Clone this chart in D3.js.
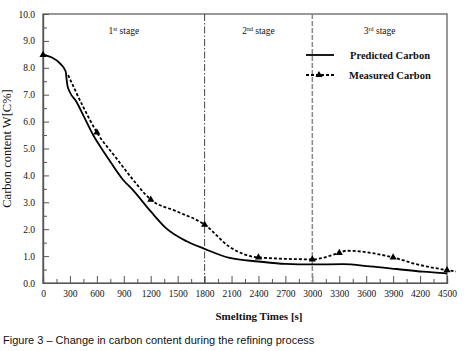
<!DOCTYPE html>
<html>
<head>
<meta charset="utf-8">
<script src="https://cdn.jsdelivr.net/npm/d3@7"></script>
<style>
  body { margin: 0; background: #fff; }
  svg text { font-family: "Liberation Serif", "Times New Roman", serif; fill: #111; }
</style>
</head>
<body>
<div id="chart"></div>
<script>
// values
const predTime   = [0, 100, 186, 253, 262, 272, 297, 372, 464, 557, 650, 724, 891, 1000, 1200, 1370, 1600, 1800, 2080, 2400, 2700, 3000, 3340, 3640, 3940, 4230, 4500];
const predCarbon = [8.48, 8.38, 8.17, 7.86, 7.6, 7.35, 7.11, 6.74, 6.13, 5.51, 5.01, 4.64, 3.84, 3.46, 2.66, 2.04, 1.55, 1.27, 0.93, 0.8, 0.71, 0.69, 0.7, 0.62, 0.52, 0.42, 0.36];

const measTime   = [0, 280, 446, 600, 817, 1000, 1200, 1490, 1800, 2080, 2400, 3000, 3300, 3380, 3900, 4160, 4500, 4600];
const measCarbon = [8.48, 7.73, 6.56, 5.6, 4.64, 3.85, 3.1, 2.66, 2.17, 1.34, 0.95, 0.88, 1.12, 1.2, 0.95, 0.7, 0.48, 0.43];
const markerTime = [0, 600, 1200, 1800, 2400, 3000, 3300, 3900, 4500];

const xTicks = d3.range(0, 4501, 300);
const yTicks = d3.range(0, 10.01, 1);
const stageLines = [1800, 3000];
const stages = [{ n: "1", sup: "st", t: 900 }, { n: "2", sup: "nd", t: 2400 }, { n: "3", sup: "rd", t: 3750 }];

const W = 466, H = 351;
const margin = { top: 14, right: 19, bottom: 68, left: 43 };
const width = W - margin.left - margin.right;
const height = H - margin.top - margin.bottom;

const svg = d3.select("#chart").append("svg")
    .attr("width", W).attr("height", H);
const g = svg.append("g")
    .attr("transform", `translate(${margin.left},${margin.top})`);

const x = d3.scaleLinear().domain([0, 4500]).range([0, width]);
const y = d3.scaleLinear().domain([0, 10]).range([height, 0]);

// frame
g.append("rect")
    .attr("width", width).attr("height", height)
    .attr("fill", "none").attr("stroke", "#555").attr("stroke-width", 1.2);

// x axis: major ticks every 300, minor every 150, pointing inward
g.append("g")
  .attr("transform", `translate(0,${height})`)
  .call(d3.axisBottom(x).tickValues(xTicks).tickSize(-7).tickPadding(7).tickFormat(d3.format("d")));
g.append("g")
  .attr("transform", `translate(0,${height})`)
  .call(d3.axisBottom(x).tickValues(d3.range(150, 4500, 300)).tickSize(-4).tickFormat(""));

g.append("g")
  .call(d3.axisLeft(y).tickValues(yTicks).tickSize(-6).tickPadding(8).tickFormat(d3.format(".1f")));
g.append("g")
  .call(d3.axisLeft(y).tickValues(d3.range(0.5, 10, 1)).tickSize(-4).tickFormat(""));

g.selectAll(".domain").attr("stroke", "#555").attr("stroke-width", 1.2);
g.selectAll(".tick line").attr("stroke", "#555");
g.selectAll(".tick text").style("font-size", "9.5px")
  .style("font-family", "'Liberation Serif', serif").attr("fill", "#222");

// stage separators
g.append("line")
  .attr("x1", x(stageLines[0])).attr("x2", x(stageLines[0]))
  .attr("y1", 0).attr("y2", height)
  .attr("stroke", "#333").attr("stroke-width", 0.9).attr("stroke-dasharray", "7,2,1.5,2");
g.append("line")
  .attr("x1", x(stageLines[1])).attr("x2", x(stageLines[1]))
  .attr("y1", 0).attr("y2", height)
  .attr("stroke", "#888").attr("stroke-width", 1.5).attr("stroke-dasharray", "5,2");

// stage labels
stages.forEach(s => {
  const t = g.append("text")
    .attr("x", x(s.t)).attr("y", 20)
    .attr("text-anchor", "middle")
    .style("font-size", "9.5px");
  t.append("tspan").text(s.n);
  t.append("tspan").text(s.sup).attr("dy", -3).style("font-size", "6px");
  t.append("tspan").text(" stage").attr("dy", 3);
});

// curves
const line = d3.line().x(d => x(d[0])).y(d => y(d[1])).curve(d3.curveMonotoneX);

g.append("path")
  .datum(d3.zip(predTime, predCarbon))
  .attr("d", line)
  .attr("fill", "none").attr("stroke", "#000").attr("stroke-width", 1.8);

g.append("path")
  .datum(d3.zip(measTime, measCarbon).slice(1))
  .attr("d", line)
  .attr("fill", "none").attr("stroke", "#000").attr("stroke-width", 1.8)
  .attr("stroke-dasharray", "3,2");

const markerVal = markerTime.map(t => measCarbon[measTime.indexOf(t)]);
const tri = d3.symbol().type(d3.symbolTriangle).size(22);
g.selectAll(".mk")
  .data(d3.zip(markerTime, markerVal))
  .enter().append("path")
    .attr("class", "mk")
    .attr("d", tri)
    .attr("transform", d => `translate(${x(d[0])},${y(d[1])})`)
    .attr("fill", "#000");

// legend
const lg = g.append("g").attr("transform", `translate(${306 - margin.left},${55 - margin.top})`);
lg.append("line").attr("x1", 0).attr("x2", 28).attr("y1", 0).attr("y2", 0)
  .attr("stroke", "#000").attr("stroke-width", 1.8);
lg.append("line").attr("x1", 0).attr("x2", 28).attr("y1", 20).attr("y2", 20)
  .attr("stroke", "#000").attr("stroke-width", 1.8).attr("stroke-dasharray", "3,2");
lg.append("path").attr("d", tri).attr("transform", "translate(13,20)").attr("fill", "#000");
lg.append("text").attr("x", 44).attr("y", 3.5).text("Predicted Carbon")
  .style("font-size", "10.5px").style("font-weight", "bold");
lg.append("text").attr("x", 43).attr("y", 23.5).text("Measured Carbon")
  .style("font-size", "10.5px").style("font-weight", "bold");

// axis titles
svg.append("text")
  .attr("transform", `translate(11,${margin.top + height / 2}) rotate(-90)`)
  .attr("text-anchor", "middle")
  .style("font-size", "12.5px")
  .text("Carbon content  W[C%]");
svg.append("text")
  .attr("x", 259).attr("y", 320)
  .attr("text-anchor", "middle")
  .style("font-size", "11px").style("font-weight", "bold")
  .text("Smelting Times [s]");

// caption
svg.append("text")
  .attr("x", 3).attr("y", 344)
  .style("font-family", "'Liberation Sans', Arial, sans-serif")
  .style("font-size", "11px").attr("fill", "#222")
  .text("Figure 3 \u2013 Change in carbon content during the refining process");
</script>
</body>
</html>
